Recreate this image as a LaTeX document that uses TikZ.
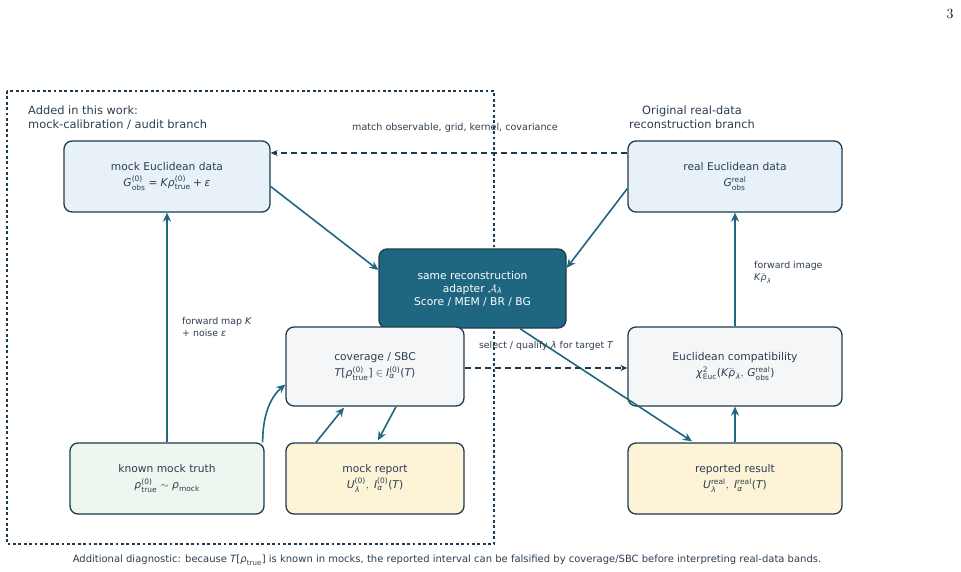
\documentclass[tikz,border=0pt]{standalone}
\usepackage{amsmath}
\usepackage{mathspec}
\setmathsfont(Digits,Latin,Greek)[Scale=1]{DejaVu Sans}
\newfontfamily\dejavu{DejaVu Sans}
\newcommand\mr[1]{\text{\dejavu #1}}
\newcommand\lp{\mathopen{\mr{(}}}
\newcommand\rp{\mathclose{\mr{)}}}
\newcommand\eqs{\mathrel{\mr{=}}}
\newcommand\pls{\mathbin{\mr{+}}}
\usetikzlibrary{arrows.meta}
\definecolor{navy}{HTML}{1D3B50}
\definecolor{teal}{HTML}{1F6680}
\definecolor{txt}{HTML}{2C3E50}
\definecolor{fblue}{HTML}{E8F1F8}
\definecolor{fgrey}{HTML}{F5F6F8}
\definecolor{fgreen}{HTML}{EDF6EF}
\definecolor{fyellow}{HTML}{FDF4D8}
\tikzset{
  box/.style={draw=navy, line width=1.3pt, rounded corners=8pt, align=center,
    text=txt, font=\dejavu\fontsize{10.7}{16}\selectfont, inner sep=0pt},
  arr/.style={draw=teal, line width=1.6pt, -{Stealth[length=9pt,width=8pt]}},
  darr/.style={draw=navy, line width=1.3pt, dash pattern=on 6pt off 4pt, -{Stealth[length=7pt,width=6pt]}},
  lbl/.style={text=txt, font=\dejavu\fontsize{9.4}{12.5}\selectfont, inner sep=0pt},
  head/.style={text=txt, font=\dejavu\fontsize{11.4}{13.5}\selectfont, inner sep=0pt},
}
\begin{document}
\begin{tikzpicture}[x=1pt,y=-1pt]
\useasboundingbox (0,0) rectangle (961,572);
% frame
\draw[navy, line width=1.4pt, dash pattern=on 2.8pt off 2.6pt] (7,91) rectangle (494,544);
\node[font=\fontsize{14}{16}\selectfont] (pg) at (950,14) {3};
% headings
\node[head, anchor=north west, align=left] (hl) at (28,106) {Added in this work:\\mock-calibration / audit branch};
\node[head, anchor=north, align=center] (hr) at (692,106) {Original real-data\\reconstruction branch};
% boxes
\node[box, fill=fblue, minimum width=206pt, minimum height=71pt] (mockd) at (167,176.5)
  {mock Euclidean data\\$G^{\lp0\rp}_{\mr{obs}} \eqs K\rho^{\lp0\rp}_{\mr{true}} \pls \epsilon$};
\node[box, fill=fblue, minimum width=214pt, minimum height=71pt] (reald) at (735,176.5)
  {real Euclidean data\\$G^{\mr{real}}_{\mr{obs}}$};
\node[box, fill=teal, draw=navy, text=white, minimum width=187pt, minimum height=79pt,
  font=\dejavu\fontsize{10.7}{13}\selectfont] (adapter) at (472.5,288.5)
  {same reconstruction\\adapter $\mathcal{A}_\lambda$\\Score / MEM / BR / BG};
\node[box, fill=fgrey, minimum width=178pt, minimum height=79pt] (cov) at (375,366.5)
  {coverage / SBC\\$T\mr{[}\rho^{\lp0\rp}_{\mr{true}}\mr{]} \in I^{\lp0\rp}_\alpha\lp T\rp$};
\node[box, fill=fgrey, minimum width=214pt, minimum height=79pt] (compat) at (735,366.5)
  {Euclidean compatibility\\$\chi^2_{\mr{Euc}}\lp K\bar\rho_\lambda,\, G^{\mr{real}}_{\mr{obs}}\rp$};
\node[box, fill=fgreen, minimum width=194pt, minimum height=71pt] (truth) at (167,478.5)
  {known mock truth\\$\rho^{\lp0\rp}_{\mr{true}} \sim \rho_{\mr{mock}}$};
\node[box, fill=fyellow, minimum width=178pt, minimum height=71pt] (mrep) at (375,478.5)
  {mock report\\$U^{\lp0\rp}_\lambda,\ I^{\lp0\rp}_\alpha\lp T\rp$};
\node[box, fill=fyellow, minimum width=214pt, minimum height=71pt] (rres) at (735,478.5)
  {reported result\\$U^{\mr{real}}_\lambda,\ I^{\mr{real}}_\alpha\lp T\rp$};
% connectors
\draw[darr] ([yshift=23.5pt]reald.west) -- ([yshift=23.5pt]mockd.east);
\node[lbl, font=\dejavu\fontsize{9.6}{11}\selectfont] (mlbl) at (455,128) {match observable, grid, kernel, covariance};
\draw[arr] ([yshift=-10pt]mockd.east) -- ([yshift=18.5pt]adapter.west);
\draw[arr] ([yshift=-12pt]reald.west) -- ([yshift=20.5pt]adapter.east);
\draw[arr] (truth.north) -- (mockd.south);
\node[lbl, anchor=north west, align=left] (fwd) at (182,317) {forward map $K$\\+ noise $\epsilon$};
\draw[arr] ([xshift=-2pt]truth.north east) .. controls +(0,-32) and +(-12,10) .. ([yshift=-18pt]cov.west);
\draw[arr] ([xshift=-59pt]mrep.north) -- ([xshift=-31pt,yshift=-1pt]cov.south);
\draw[arr] ([xshift=21pt]cov.south) -- ([xshift=3pt,yshift=2pt]mrep.north);
\draw[arr] ([xshift=47.5pt]adapter.south) -- ([xshift=-43pt,yshift=1pt]rres.north);
\draw[darr] ([yshift=-1.5pt]cov.east) -- ([yshift=-1.5pt]compat.west);
\node[lbl] (slbl) at (546,346) {select / qualify $\lambda$ for target $T$};
\draw[arr] (rres.north) -- (compat.south);
\draw[arr] (compat.north) -- (reald.south);
\node[lbl, anchor=north west, align=left] (fimg) at (754,261) {forward image\\$K\bar\rho_\lambda$};
\node[lbl, font=\dejavu\fontsize{10}{11}\selectfont] (cap) at (447,560)
  {Additional diagnostic: because $T\mr{[}\rho_{\mr{true}}\mr{]}$ is known in mocks, the reported interval can be falsified by coverage/SBC before interpreting real-data bands.};
\end{tikzpicture}
\end{document}
